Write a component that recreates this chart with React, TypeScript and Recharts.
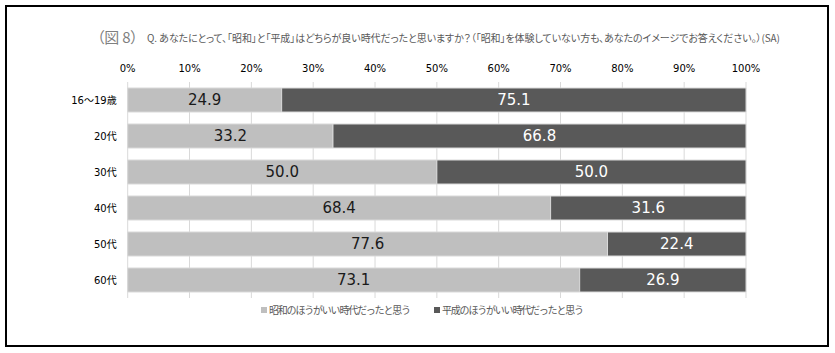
import React from 'react';
import { BarChart, Bar, XAxis, YAxis, CartesianGrid, LabelList, Legend } from 'recharts';

const categories = ['16〜19歳', '20代', '30代', '40代', '50代', '60代'];
const showaValues = [24.9, 33.2, 50.0, 68.4, 77.6, 73.1];
const heiseiValues = [75.1, 66.8, 50.0, 31.6, 22.4, 26.9];
const xTicks = [0, 10, 20, 30, 40, 50, 60, 70, 80, 90, 100];
const seriesNames = ['昭和のほうがいい時代だったと思う', '平成のほうがいい時代だったと思う'];
const figLabel = '（図 8）';
const question = 'Q. あなたにとって、「昭和」と「平成」はどちらが良い時代だったと思いますか？（「昭和」を体験していない方も、あなたのイメージでお答えください。）(SA)';

const data = categories.map((c, i) => ({ age: c, showa: showaValues[i], heisei: heiseiValues[i] }));

const LIGHT = '#bfbfbf';
const DARK = '#595959';
const FONT = "Verdana, 'DejaVu Sans', 'Noto Sans CJK JP', sans-serif";
const JP = "'Noto Sans CJK JP', sans-serif";

const fmt = (v: any) => Number(v).toFixed(1);

const LegendContent = () => (
  <div style={{ position: 'relative', width: 835, height: 20, fontFamily: JP, fontSize: 10, color: '#595959' }}>
    {[{ x: 261, c: LIGHT, n: seriesNames[0] }, { x: 434, c: DARK, n: seriesNames[1] }].map((it) => (
      <div key={it.n} style={{ position: 'absolute', left: it.x, top: 0, display: 'flex', alignItems: 'center', height: 16 }}>
        <span style={{ display: 'inline-block', width: 6, height: 6, background: it.c, marginRight: 2 }} />
        <span style={{ letterSpacing: -1.2, whiteSpace: 'nowrap', lineHeight: '16px' }}>{it.n}</span>
      </div>
    ))}
  </div>
);

export default function App() {
  return (
    <div style={{ position: 'absolute', left: 0, top: 0, width: 835, height: 353, background: '#fff', overflow: 'hidden' }}>
      <div style={{ position: 'absolute', left: 5, top: 5, width: 824, height: 342, border: '2px solid #000', boxSizing: 'border-box' }} />
      <svg width={835} height={60} style={{ position: 'absolute', left: 0, top: 0 }}>
        <text x={97} y={43} fontFamily={JP} fontSize={15} fill="#7f7f7f" textLength={41} lengthAdjust="spacing" style={{ fontFeatureSettings: '"palt"' }}>{figLabel}</text>
        <text x={147} y={42} fontFamily={JP} fontSize={10} fill="#595959" textLength={633} lengthAdjust="spacing" style={{ fontFeatureSettings: '"palt"' }}>{question}</text>
      </svg>
      <div style={{ position: 'absolute', left: 0, top: 0 }}>
        <BarChart
          layout="vertical"
          width={835}
          height={353}
          data={data}
          margin={{ top: 52, right: 89, bottom: 55, left: 0 }}
        >
          <CartesianGrid horizontal={false} vertical={true} stroke="#d9d9d9" />
          <XAxis
            type="number"
            orientation="top"
            domain={[0, 100]}
            ticks={xTicks}
            interval={0}
            tickFormatter={(v: number) => `${v}%`}
            axisLine={false}
            tickLine={false}
            tickSize={0}
            tickMargin={10}
            height={30}
            tick={{ fontSize: 10, fill: '#000', fontFamily: FONT }}
          />
          <YAxis
            type="category"
            dataKey="age"
            width={127.7}
            axisLine={false}
            tickLine={false}
            tickSize={0}
            tickMargin={11}
            interval={0}
            tick={{ fontSize: 10, fill: '#000', fontFamily: FONT }}
          />
          <Legend
            layout="horizontal"
            verticalAlign="middle"
            align="center"
            content={() => <LegendContent />}
            wrapperStyle={{ top: 302, left: 0, width: 835, height: 20 }}
          />
          <Bar dataKey="showa" name={seriesNames[0]} stackId="a" fill={LIGHT} stroke="#d9d9d9" strokeWidth={1} barSize={24} isAnimationActive={false}>
            <LabelList dataKey="showa" position="center" formatter={fmt} fill="#1a1a1a" fontSize={15} fontFamily={FONT} />
          </Bar>
          <Bar dataKey="heisei" name={seriesNames[1]} stackId="a" fill={DARK} stroke="#d9d9d9" strokeWidth={1} barSize={24} isAnimationActive={false}>
            <LabelList dataKey="heisei" position="center" formatter={fmt} fill="#ffffff" fontSize={15} fontFamily={FONT} />
          </Bar>
        </BarChart>
      </div>
    </div>
  );
}
